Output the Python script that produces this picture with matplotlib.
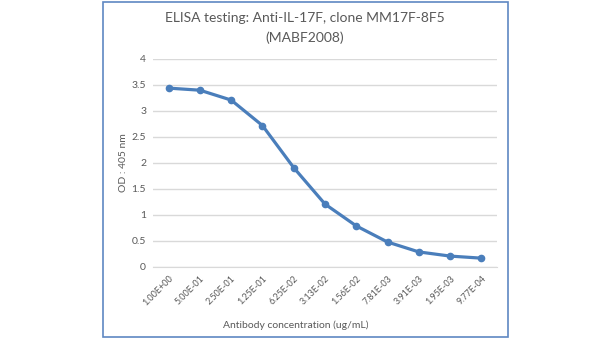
import numpy as np
import matplotlib.pyplot as plt
from matplotlib.patches import Rectangle

plt.rcParams['font.family'] = ['Lato', 'DejaVu Sans']

# data
concentrations = ["1.00E+00", "5.00E-01", "2.50E-01", "1.25E-01", "6.25E-02", "3.13E-02",
                  "1.56E-02", "7.81E-03", "3.91E-03", "1.95E-03", "9.77E-04"]
od_405 = [3.44, 3.40, 3.21, 2.72, 1.91, 1.21, 0.79, 0.48, 0.29, 0.21, 0.17]
y_ticks = [0, 0.5, 1, 1.5, 2, 2.5, 3, 3.5, 4]
y_tick_labels = ["0", "0.5", "1", "1.5", "2", "2.5", "3", "3.5", "4"]

txt = '#595959'
blue = '#4a7ebb'

fig = plt.figure(figsize=(6, 3.38), dpi=100)

# chart border
fig.patches.append(Rectangle((103/600, 1 - 337/338), 405/600, 335/338,
                             transform=fig.transFigure, fill=False,
                             edgecolor='#5f88c2', linewidth=1.2))

ax = fig.add_axes([153/600, 1 - 267/338, 344/600, 208/338])
x = np.arange(len(concentrations))
ax.plot(x, od_405, color=blue, linewidth=2.3, marker='o', markersize=4.5)

ax.set_xlim(-0.5, len(concentrations) - 0.5)
ax.set_ylim(0, 4)
ax.set_yticks(y_ticks)
ax.set_yticklabels(y_tick_labels, color=txt, fontsize=7.5)
ax.set_xticks(x)
ax.set_xticklabels(concentrations, rotation=45, ha='right', va='top',
                   rotation_mode='anchor', color=txt, fontsize=6.5)
ax.tick_params(axis='both', length=0, pad=5)
ax.grid(axis='y', color='#d9d9d9', linewidth=1)
ax.set_axisbelow(True)
for s in ['top', 'right', 'left']:
    ax.spines[s].set_visible(False)
ax.spines['bottom'].set_color('#d9d9d9')

fig.text(124/600, 1 - 163/338, "OD : 405 nm", rotation=90, ha='center', va='center',
         color=txt, fontsize=7.5)
fig.text(296/600, 1 - 325/338, "Antibody concentration (ug/mL)", ha='center', va='center',
         color=txt, fontsize=7.5)
fig.text(305/600, 1 - 18/338, "ELISA testing: Anti-IL-17F, clone MM17F-8F5", ha='center',
         va='center', color=txt, fontsize=10)
fig.text(305/600, 1 - 38/338, "(MABF2008)", ha='center', va='center', color=txt, fontsize=10)

plt.savefig('out.png', dpi=100)
